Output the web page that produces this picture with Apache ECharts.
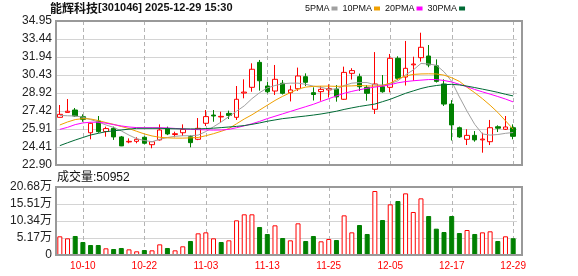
<!DOCTYPE html>
<html><head><meta charset="utf-8">
<script src="https://cdn.jsdelivr.net/npm/echarts@6/dist/echarts.min.js"></script>
<style>html,body{margin:0;padding:0;background:#fff}#c{width:578px;height:276px}</style>
</head><body><div id="c"></div>
<script>
const stockName = '能辉科技';
const stockInfo = '[301046] 2025-12-29 15:30';
const volumeName = '成交量';
const categories = ['09-29','09-30','10-09','10-10','10-13','10-14','10-15','10-16','10-17','10-20',
  '10-21','10-22','10-23','10-24','10-27','10-28','10-29','10-30','10-31','11-03',
  '11-04','11-05','11-06','11-07','11-10','11-11','11-12','11-13','11-14','11-17',
  '11-18','11-19','11-20','11-21','11-24','11-25','11-26','11-27','11-28','12-01',
  '12-02','12-03','12-04','12-05','12-08','12-09','12-10','12-11','12-12','12-15',
  '12-16','12-17','12-18','12-19','12-22','12-23','12-24','12-25','12-26','12-29'];
const labelDates = ['10-10','10-22','11-03','11-13','11-25','12-05','12-17','12-29'];
const opens = [26.89,27.30,27.50,26.94,25.60,26.58,25.70,25.97,25.25,24.83,
  24.88,25.22,24.60,25.00,25.97,25.45,25.60,25.27,25.05,26.39,
  27.08,26.92,27.22,26.89,28.92,29.40,31.49,29.51,29.09,29.74,
  28.95,29.28,30.29,28.95,29.04,29.18,29.25,28.40,30.57,30.29,
  29.40,27.56,29.45,29.40,31.83,30.26,31.28,31.88,32.02,31.20,
  29.68,28.00,26.02,25.05,25.38,25.00,24.85,26.10,25.89,26.02];
const closes = [27.14,27.40,27.00,26.72,26.39,25.69,25.95,25.25,24.50,24.88,
  25.05,24.72,24.85,25.83,25.50,25.52,25.88,24.77,25.97,26.95,
  27.00,26.97,27.05,28.40,29.00,30.91,29.95,29.03,30.07,28.90,
  29.18,30.35,29.82,28.80,29.23,29.30,28.60,30.65,30.80,29.45,
  28.90,29.68,29.03,31.83,30.15,30.99,31.35,32.75,31.27,29.90,
  28.00,26.25,25.25,25.38,25.00,25.07,26.02,25.98,26.08,25.30];
const lows = [26.87,27.30,26.94,26.52,25.05,25.60,25.27,25.00,24.48,24.72,
  24.72,24.62,24.30,24.95,25.40,25.22,25.33,24.38,24.98,26.16,
  26.52,26.44,26.75,26.67,28.48,29.03,29.12,28.90,28.76,28.80,
  28.22,29.10,29.51,28.30,28.28,28.55,28.20,28.35,30.05,29.10,
  28.28,27.17,28.95,28.98,30.02,29.55,29.95,31.55,31.08,29.80,
  27.84,24.95,25.17,24.57,24.85,23.93,24.57,25.66,25.83,25.05];
const highs = [27.92,28.42,27.67,27.14,26.45,27.00,26.11,26.11,25.33,25.13,
  25.22,25.30,24.90,26.30,26.11,25.69,26.30,25.38,26.83,27.50,
  27.50,27.36,27.45,29.51,30.07,31.41,31.69,29.87,31.27,30.01,
  29.55,31.05,30.57,29.40,29.51,29.65,29.59,31.13,31.00,30.55,
  29.59,32.35,30.43,32.19,32.00,33.28,31.96,33.97,32.94,31.74,
  30.07,28.33,26.11,25.89,25.74,25.60,26.67,26.22,27.00,26.30];
const volumes = [56800,50700,57800,39500,30400,30400,20300,18200,21300,17200,
  11200,15200,14200,32400,21300,14200,26400,42600,65900,68900,
  50700,39500,44600,105400,123700,123700,85200,63900,90200,51700,
  44600,96300,42600,57800,41600,48700,45600,120600,68900,91200,
  63900,194600,106400,154100,164200,187500,130800,172300,118600,80100,
  69900,118600,66900,76000,63900,68900,72000,42600,56800,50952];
const ma5 = [27.05,27.02,27.00,26.90,26.70,26.50,26.25,26.05,25.75,25.40,
  25.10,24.95,24.85,25.05,25.20,25.30,25.35,25.35,25.40,25.70,
  26.10,26.50,26.95,27.40,27.85,28.45,28.95,29.35,29.55,29.70,
  29.75,29.75,29.65,29.50,29.40,29.25,29.25,29.55,29.75,29.80,
  29.80,29.60,29.60,29.70,29.95,30.45,30.85,31.40,31.35,31.25,
  30.70,29.90,28.60,27.40,26.30,25.50,25.40,25.45,25.55,25.62];
const ma10 = [26.25,26.50,26.70,26.78,26.75,26.62,26.45,26.30,26.12,25.95,
  25.72,25.50,25.33,25.22,25.17,25.15,25.15,25.17,25.20,25.35,
  25.52,25.72,25.95,26.35,26.75,27.10,27.50,27.90,28.30,28.65,
  28.95,29.25,29.42,29.48,29.50,29.50,29.48,29.50,29.52,29.55,
  29.52,29.50,29.55,29.75,30.10,30.35,30.48,30.52,30.53,30.52,
  30.42,30.20,29.90,29.40,28.95,28.45,27.90,27.30,26.60,25.90];
const ma20 = [25.88,26.05,26.28,26.42,26.48,26.48,26.40,26.28,26.17,26.08,
  26.03,26.02,26.02,26.02,26.00,25.96,25.92,25.88,25.86,25.84,
  25.82,25.83,25.88,26.02,26.18,26.35,26.55,26.78,26.98,27.18,
  27.38,27.58,27.78,27.98,28.22,28.45,28.68,28.90,29.06,29.20,
  29.32,29.42,29.50,29.62,29.78,29.88,29.95,30.00,30.05,30.05,
  29.97,29.85,29.65,29.45,29.22,29.02,28.83,28.63,28.42,28.18];
const ma30 = [24.52,24.76,24.99,25.20,25.41,25.55,25.69,25.76,25.83,25.90,
  25.97,25.97,25.97,25.97,25.95,25.93,25.92,25.92,25.92,25.95,
  25.98,26.03,26.08,26.13,26.20,26.30,26.42,26.56,26.67,26.78,
  26.85,26.93,27.00,27.08,27.17,27.28,27.40,27.55,27.68,27.80,
  27.90,28.00,28.20,28.40,28.65,28.90,29.10,29.30,29.45,29.55,
  29.62,29.65,29.60,29.50,29.38,29.25,29.12,28.98,28.82,28.68];
const priceTicks = ['22.90','24.41','25.91','27.42','28.92','30.43','31.94','33.44','34.95'];
const volTicks = ['0','5.17万','10.34万','15.51万','20.68万'];
const volStep = 51700;

const RED = '#ff0000', GREEN = '#008000';
const priceMin = +priceTicks[0], priceMax = +priceTicks[priceTicks.length - 1];
const volMax = volStep * (volTicks.length - 1);
const candleData = opens.map((o, i) => [o, closes[i], lows[i], highs[i]]);
const volData = volumes.map((v, i) => {
  const up = i === 0 ? true : closes[i] >= closes[i - 1];
  return { value: v, itemStyle: up ? { color: '#ffffff', borderColor: RED, borderWidth: 1 } : { color: GREEN, borderColor: GREEN, borderWidth: 1 } };
});
const labelFont = "'Liberation Sans', Arial, 'Noto Sans CJK SC', sans-serif";
const borders = [
  { type: 'rect', id: 'b0', shape: { x: 56, y: 21, width: 466, height: 144 }, style: { fill: 'none', stroke: '#999', lineWidth: 2 }, silent: true, z: 10 },
  { type: 'rect', id: 'b1', shape: { x: 56, y: 187, width: 466, height: 68 }, style: { fill: 'none', stroke: '#999', lineWidth: 2 }, silent: true, z: 10 }
];
const chart = echarts.init(document.getElementById('c'));
chart.setOption({
  animation: false,
  backgroundColor: '#fff',
  title: [
    { text: '{a|' + stockName + '}{b|' + stockInfo + '}', left: 50, top: 2, padding: 0,
      textStyle: { rich: { a: { fontSize: 12, color: '#111', fontFamily: "'Noto Sans CJK SC', sans-serif" }, b: { fontSize: 11, color: '#111', fontFamily: labelFont } } } },
    { text: volumeName + ':' + volumes[volumes.length - 1], left: 57, top: 172, padding: 0, textStyle: { fontSize: 12, fontWeight: 'normal', color: '#111', fontFamily: labelFont } }
  ],
  legend: {
    left: 305, top: 4, padding: 0, align: 'right', icon: 'rect', itemWidth: 6, itemHeight: 4, itemGap: 5,
    textStyle: { fontSize: 9, color: '#111', padding: [0, -3, 0, 0], fontFamily: labelFont },
    data: ['5PMA', '10PMA', '20PMA', '30PMA']
  },
  grid: [
    { left: 56, top: 21, width: 461, height: 144 },
    { left: 56, top: 187, width: 461, height: 68 }
  ],
  xAxis: [
    { type: 'category', gridIndex: 0, data: categories, boundaryGap: true, axisLine: { show: false }, axisTick: { show: false }, axisLabel: { show: false }, splitLine: { show: false } },
    { type: 'category', gridIndex: 1, data: categories, boundaryGap: true, axisLine: { show: false }, axisTick: { show: false }, splitLine: { show: false },
      axisLabel: { color: RED, fontSize: 10, margin: 6, fontFamily: labelFont, interval: (idx, val) => labelDates.indexOf(val) >= 0 } }
  ],
  yAxis: [
    { type: 'value', gridIndex: 0, position: 'left', min: priceMin, max: priceMax, show: false },
    { type: 'value', gridIndex: 0, position: 'left', offset: 0, min: 0, max: priceTicks.length - 1, interval: 1, axisLine: { show: false }, axisTick: { show: false },
      axisLabel: { color: '#222', fontSize: 12, margin: 4, fontFamily: labelFont, formatter: v => priceTicks[v] },
      splitLine: { lineStyle: { color: '#d4d4d4', width: 1 } } },
    { type: 'value', gridIndex: 1, position: 'left', min: 0, max: volMax, interval: volStep, axisLine: { show: false }, axisTick: { show: false },
      axisLabel: { color: '#222', fontSize: 12, margin: 4, fontFamily: labelFont, formatter: v => volTicks[Math.round(v / volStep)] },
      splitLine: { lineStyle: { color: '#d4d4d4', width: 1 } } }
  ],
  series: [
    { type: 'candlestick', name: 'K', xAxisIndex: 0, yAxisIndex: 0, data: candleData, barWidth: 5,
      itemStyle: { color: '#ffffff', color0: GREEN, borderColor: RED, borderColor0: GREEN, borderWidth: 1 }, z: 3 },
    { type: 'line', name: '5PMA', xAxisIndex: 0, yAxisIndex: 0, data: ma5, symbol: 'none', lineStyle: { color: '#a0a0a0', width: 1 }, itemStyle: { color: '#a0a0a0' }, z: 4 },
    { type: 'line', name: '10PMA', xAxisIndex: 0, yAxisIndex: 0, data: ma10, symbol: 'none', lineStyle: { color: '#f0a000', width: 1 }, itemStyle: { color: '#f0a000' }, z: 4 },
    { type: 'line', name: '20PMA', xAxisIndex: 0, yAxisIndex: 0, data: ma20, symbol: 'none', lineStyle: { color: '#ff00ff', width: 1 }, itemStyle: { color: '#ff00ff' }, z: 4 },
    { type: 'line', name: '30PMA', xAxisIndex: 0, yAxisIndex: 0, data: ma30, symbol: 'none', lineStyle: { color: '#006a35', width: 1 }, itemStyle: { color: '#006a35' }, z: 4 },
    { type: 'bar', name: 'VOL', xAxisIndex: 1, yAxisIndex: 2, data: volData, barWidth: 5, z: 3 }
  ],
  graphic: borders
});
// vertical dashed guide lines at the labelled dates, positioned through the chart's own axes
const guides = [];
labelDates.forEach((d, k) => {
  const x = Math.round(chart.convertToPixel({ xAxisIndex: 0 }, d)) + 0.5;
  const segs = [
    [chart.convertToPixel({ yAxisIndex: 0 }, priceMax), chart.convertToPixel({ yAxisIndex: 0 }, priceMin)],
    [chart.convertToPixel({ yAxisIndex: 2 }, volMax), chart.convertToPixel({ yAxisIndex: 2 }, 0)]
  ];
  segs.forEach((s, j) => guides.push({
    type: 'line', id: 'g' + k + '_' + j, silent: true, z: 1,
    shape: { x1: x, y1: s[0], x2: x, y2: s[1] },
    style: { stroke: '#b4b4b4', lineWidth: 1, lineDash: [4, 3] }
  }));
});
chart.setOption({ graphic: borders.concat(guides) });
</script></body></html>
